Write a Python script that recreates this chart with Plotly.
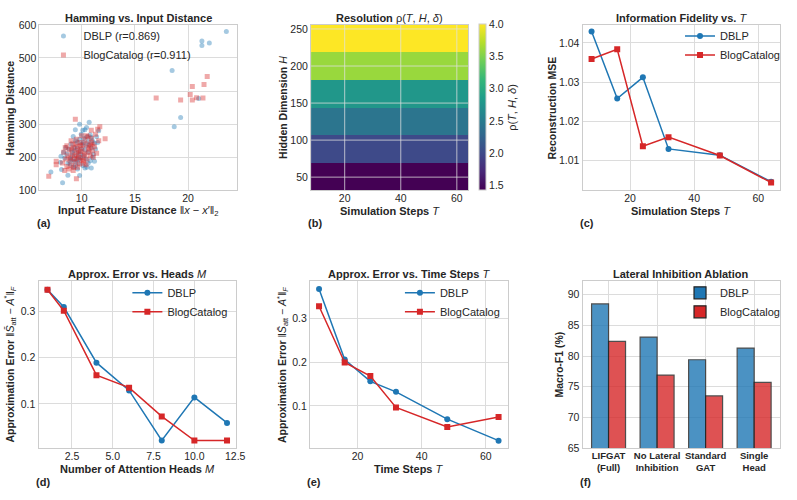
import numpy as np
import plotly.graph_objects as go

W, H = 797, 500
FONT = "Liberation Sans, Arial, sans-serif"
BLUE = "#1f77b4"
RED = "#d62728"
GRID = "#dcdcdc"
FRAME = "#cccccc"
TXT = "#262626"

# ---------------- data ----------------
# (a) Hamming vs input distance
dblp_x = [7.1, 8.2, 8.7, 9.8, 8.1, 8.05, 9.8, 10.7, 9.4, 10.1, 10.3, 11.6, 10.8, 11.0, 10.5, 9.2, 9.6, 10.0,
          10.4, 10.9, 11.3, 11.1, 10.6, 10.2, 9.9, 9.5, 9.1, 8.8, 8.5, 8.6, 8.9, 9.3, 9.7, 10.1, 10.5, 10.9,
          10.3, 9.6, 9.2, 8.7, 9.0, 9.4, 9.8, 10.2, 10.6, 11.2, 11.4, 10.0, 9.6, 9.3, 9.9, 10.4, 10.8, 11.0,
          8.4, 8.9, 9.5, 10.7, 10.3, 9.1, 9.7, 10.9, 8.3, 9.4, 9.95, 10.45, 11.5, 8.0, 9.3, 10.15, 10.6,
          9.75, 9.05, 11.2,
          23.6, 21.3, 21.3, 22.0, 18.5, 19.3, 18.7, 21.0]
dblp_y = [156, 123, 146, 145, 163, 203, 300, 306, 283, 282, 283, 280, 268, 250, 262, 263, 245, 240,
          235, 228, 225, 210, 215, 205, 198, 205, 215, 225, 230, 210, 195, 188, 182, 175, 170, 168,
          168, 165, 170, 182, 240, 250, 255, 258, 248, 243, 262, 225, 228, 230, 210, 195, 190, 200,
          198, 180, 192, 238, 222, 205, 215, 260, 215, 175, 270, 290, 245, 185, 220, 245, 182,
          195, 193, 188,
          580, 551, 538, 545, 462, 320, 292, 378]
blog_x = [6.9, 7.6, 7.6, 8.4, 9.5, 9.4, 10.9, 11.7, 12.2, 11.5, 11.3, 11.6, 10.6, 10.0, 9.5, 9.0, 8.6, 8.8,
          9.2, 9.6, 10.1, 10.5, 10.9, 11.2, 11.0, 10.7, 10.3, 9.9, 9.5, 9.1, 8.7, 8.5, 8.9, 9.3, 9.7, 10.1,
          10.5, 10.8, 11.1, 9.4, 9.8, 10.2, 9.0, 8.6, 8.8, 9.6, 10.4, 9.2, 9.85, 10.3, 10.7, 9.45, 9.75,
          10.05, 10.6, 8.3, 8.2, 9.55, 10.25, 10.9, 11.4, 9.15, 9.65, 10.15, 10.85, 9.35, 9.95, 8.95, 9.05,
          10.45, 11.05, 9.25, 8.45, 9.9,
          17.0, 19.3, 20.2, 20.4, 20.4, 21.5, 21.8, 20.8, 21.4]
blog_y = [143, 178, 188, 160, 135, 315, 282, 292, 256, 285, 270, 250, 262, 265, 255, 250, 235, 222,
          228, 232, 238, 240, 245, 232, 220, 215, 212, 218, 215, 210, 205, 195, 190, 195, 200, 198,
          195, 205, 200, 185, 180, 182, 175, 172, 165, 170, 178, 160, 245, 252, 230, 240, 210,
          225, 225, 215, 183, 197, 208, 258, 212, 240, 222, 190, 235, 205, 192, 198, 225,
          265, 240, 170, 230, 235,
          379, 373, 390, 373, 414, 420, 444, 380, 379]

# (b) Resolution heatmap
T_extent = [8, 64]
H_extent = [32, 256]
rho_rows = [1.42, 2.0, 2.42, 2.78, 3.6, 4.0]   # bottom -> top

# (c) Information fidelity
T_steps = [8, 16, 24, 32, 48, 64]
mse_dblp = [1.0429, 1.0258, 1.0312, 1.0129, 1.0113, 1.0045]
mse_blog = [1.0359, 1.0384, 1.0136, 1.0159, 1.0112, 1.0043]

# (d) Approx error vs heads
heads = [1, 2, 4, 6, 8, 10, 12]
errm_dblp = [0.346, 0.309, 0.189, 0.129, 0.021, 0.114, 0.059]
errm_blog = [0.346, 0.301, 0.162, 0.135, 0.073, 0.021, 0.021]

# (e) Approx error vs time steps
errt_dblp = [0.367, 0.206, 0.156, 0.132, 0.0695, 0.0204]
errt_blog = [0.3275, 0.199, 0.168, 0.0963, 0.0517, 0.0747]

# (f) Ablation
ablation = ["LIFGAT<br>(Full)", "No Lateral<br>Inhibition", "Standard<br>GAT", "Single<br>Head"]
f1_dblp = [88.5, 83.1, 79.4, 81.3]
f1_blog = [82.4, 76.9, 73.5, 75.7]

# ---------------- layout helpers ----------------
def px(x):
    return x / W

def py(y):
    return 1 - y / H

# plot boxes in pixels: (left, top, right, bottom)
boxes = {
    1: (40, 19, 240, 189),
    2: (315, 19, 474, 189),
    3: (590, 19, 790, 189),
    4: (39, 282, 239, 453),
    5: (314, 282, 514, 453),
    6: (590, 282, 790, 453),
}

fig = go.Figure()

# (a)
fig.add_trace(go.Scatter(x=dblp_x, y=dblp_y, mode="markers", name="DBLP (r=0.869)",
                         marker=dict(color=BLUE, size=5, opacity=0.4, symbol="circle"),
                         xaxis="x", yaxis="y", legend="legend"))
fig.add_trace(go.Scatter(x=blog_x, y=blog_y, mode="markers", name="BlogCatalog (r=0.911)",
                         marker=dict(color=RED, size=5, opacity=0.4, symbol="square"),
                         xaxis="x", yaxis="y", legend="legend"))

# (b)
z = [[v] for v in rho_rows]
H_edges = np.linspace(H_extent[0], H_extent[1], len(rho_rows) + 1)
fig.add_trace(go.Heatmap(z=z, x=T_extent, y=H_edges, colorscale="Viridis",
                         zmin=1.42, zmax=4.0, showscale=True, xaxis="x2", yaxis="y2",
                         colorbar=dict(x=px(485), xanchor="left", y=py(189), yanchor="bottom",
                                       len=170 / H, lenmode="fraction", thickness=7,
                                       outlinecolor=FRAME, outlinewidth=1,
                                       tickvals=[1.5, 2.0, 2.5, 3.0, 3.5, 4.0],
                                       ticktext=["1.5", "2.0", "2.5", "3.0", "3.5", "4.0"],
                                       tickfont=dict(size=10.5, color=TXT, family=FONT),
                                       ticks="", xpad=0, ypad=0,
                                       title=dict(text="ρ(<i>T</i>, <i>H</i>, <i>δ</i>)", side="right",
                                                  font=dict(size=11, color=TXT, family=FONT))),
                         hoverinfo="skip"))

# (c)
fig.add_trace(go.Scatter(x=T_steps, y=mse_dblp, mode="lines+markers", name="DBLP",
                         line=dict(color=BLUE, width=1.5), marker=dict(symbol="circle", size=6),
                         xaxis="x3", yaxis="y3", legend="legend2"))
fig.add_trace(go.Scatter(x=T_steps, y=mse_blog, mode="lines+markers", name="BlogCatalog",
                         line=dict(color=RED, width=1.5), marker=dict(symbol="square", size=6),
                         xaxis="x3", yaxis="y3", legend="legend2"))
# (d)
fig.add_trace(go.Scatter(x=heads, y=errm_dblp, mode="lines+markers", name="DBLP",
                         line=dict(color=BLUE, width=1.5), marker=dict(symbol="circle", size=6),
                         xaxis="x4", yaxis="y4", legend="legend3"))
fig.add_trace(go.Scatter(x=heads, y=errm_blog, mode="lines+markers", name="BlogCatalog",
                         line=dict(color=RED, width=1.5), marker=dict(symbol="square", size=6),
                         xaxis="x4", yaxis="y4", legend="legend3"))
# (e)
fig.add_trace(go.Scatter(x=T_steps, y=errt_dblp, mode="lines+markers", name="DBLP",
                         line=dict(color=BLUE, width=1.5), marker=dict(symbol="circle", size=6),
                         xaxis="x5", yaxis="y5", legend="legend4"))
fig.add_trace(go.Scatter(x=T_steps, y=errt_blog, mode="lines+markers", name="BlogCatalog",
                         line=dict(color=RED, width=1.5), marker=dict(symbol="square", size=6),
                         xaxis="x5", yaxis="y5", legend="legend4"))
# (f)
fig.add_trace(go.Bar(x=ablation, y=f1_dblp, name="DBLP", marker=dict(color=BLUE, opacity=0.8,
                     line=dict(color="#222222", width=1.2)), xaxis="x6", yaxis="y6", legend="legend5"))
fig.add_trace(go.Bar(x=ablation, y=f1_blog, name="BlogCatalog", marker=dict(color=RED, opacity=0.8,
                     line=dict(color="#222222", width=1.2)), xaxis="x6", yaxis="y6", legend="legend5"))

# ---------------- axes ----------------
def axis_common():
    return dict(showgrid=True, gridcolor=GRID, gridwidth=1, zeroline=False, showline=True,
                linecolor=FRAME, linewidth=1.2, mirror=True, ticks="", ticklen=0,
                tickfont=dict(size=10.5, color=TXT, family=FONT))

ranges = {
    1: dict(x=dict(range=[6.03, 24.6], tickvals=[10, 15, 20]),
            y=dict(range=[100, 601], tickvals=[100, 200, 300, 400, 500, 600])),
    2: dict(x=dict(range=[8, 64], tickvals=[20, 40, 60]),
            y=dict(range=[32, 256], tickvals=[50, 100, 150, 200, 250])),
    3: dict(x=dict(range=[5.2, 66.8], tickvals=[20, 40, 60]),
            y=dict(range=[1.00227, 1.0447], tickvals=[1.01, 1.02, 1.03, 1.04], tickformat=".2f")),
    4: dict(x=dict(range=[0.45, 12.55], tickvals=[2.5, 5.0, 7.5, 10.0, 12.5], tickformat=".1f"),
            y=dict(range=[0.0046, 0.3646], tickvals=[0.1, 0.2, 0.3], tickformat=".1f")),
    5: dict(x=dict(range=[5.2, 66.8], tickvals=[20, 40, 60]),
            y=dict(range=[0.0033, 0.3848], tickvals=[0.1, 0.2, 0.3], tickformat=".1f")),
    6: dict(x=dict(range=[-0.535, 3.535]),
            y=dict(range=[65, 92.2], tickvals=[65, 70, 75, 80, 85, 90])),
}
layout_axes = {}
for i, (l, t, r, b) in boxes.items():
    xa = axis_common()
    ya = axis_common()
    xa.update(ranges[i]["x"])
    ya.update(ranges[i]["y"])
    xa["domain"] = [px(l), px(r)]
    ya["domain"] = [py(b), py(t)]
    xa["ticklabelstandoff"] = -2
    sfx = "" if i == 1 else str(i)
    xa["anchor"] = "y" + sfx
    ya["anchor"] = "x" + sfx
    if i == 6:
        xa["type"] = "category"
        xa["tickfont"] = dict(size=9.5, color=TXT, family=FONT, weight="bold")
    layout_axes["xaxis" + sfx] = xa
    layout_axes["yaxis" + sfx] = ya

fig.update_layout(**layout_axes)

# gridlines over heatmap
for tv in ranges[2]["x"]["tickvals"]:
    fig.add_shape(type="line", xref="x2", yref="y2", x0=tv, x1=tv, y0=H_extent[0], y1=H_extent[1],
                  line=dict(color="rgba(225,225,225,0.75)", width=1), layer="above")
for hv in ranges[2]["y"]["tickvals"]:
    fig.add_shape(type="line", xref="x2", yref="y2", x0=T_extent[0], x1=T_extent[1], y0=hv, y1=hv,
                  line=dict(color="rgba(225,225,225,0.75)", width=1), layer="above")

# ---------------- text annotations ----------------
ann = []
titles = {
    1: "Hamming vs. Input Distance",
    2: "Resolution <span style='font-weight:normal'>ρ(<i>T</i>, <i>H</i>, <i>δ</i>)</span>",
    3: "Information Fidelity vs. <span style='font-weight:normal'><i>T</i></span>",
    4: "Approx. Error vs. Heads <span style='font-weight:normal'><i>M</i></span>",
    5: "Approx. Error vs. Time Steps <span style='font-weight:normal'><i>T</i></span>",
    6: "Lateral Inhibition Ablation",
}
xtitles = {
    1: "Input Feature Distance <span style='font-weight:normal'>‖<i>x</i> − <i>x</i>′‖<sub>2</sub></span>",
    2: "Simulation Steps <span style='font-weight:normal'><i>T</i></span>",
    3: "Simulation Steps <span style='font-weight:normal'><i>T</i></span>",
    4: "Number of Attention Heads <span style='font-weight:normal'><i>M</i></span>",
    5: "Time Steps <span style='font-weight:normal'><i>T</i></span>",
    6: None,
}
err_lbl = ("Approximation Error <span style='font-weight:normal'>‖<i>S̄</i><sub>att</sub> − "
           "<i>A</i><sup>*</sup>‖<sub><i>F</i></sub></span>")
ytitles = {
    1: ("Hamming Distance", 10),
    2: ("Hidden Dimension <span style='font-weight:normal'><i>H</i></span>", 286),
    3: ("Reconstruction MSE", 559),
    4: (err_lbl, 10),
    5: (err_lbl, 286),
    6: ("Macro-F1 (%)", 566),
}
letters = {1: "(a)", 2: "(b)", 3: "(c)", 4: "(d)", 5: "(e)", 6: "(f)"}

for i, (l, t, r, b) in boxes.items():
    cx = (l + r) / 2
    ty = 12 if t < 100 else 275
    ann.append(dict(text="<b>" + titles[i] + "</b>", x=px(cx), y=py(ty), xref="paper", yref="paper",
                    showarrow=False, xanchor="center", yanchor="middle",
                    font=dict(size=11, color=TXT, family=FONT)))
    if xtitles[i]:
        ann.append(dict(text="<b>" + xtitles[i] + "</b>", x=px(cx), y=py(b + 21), xref="paper",
                        yref="paper", showarrow=False, xanchor="center", yanchor="middle",
                        font=dict(size=11, color=TXT, family=FONT)))
    yt, yx = ytitles[i]
    ann.append(dict(text="<b>" + yt + "</b>", x=px(yx), y=py((t + b) / 2), xref="paper", yref="paper",
                    showarrow=False, xanchor="center", yanchor="middle", textangle=-90,
                    font=dict(size=10.5, color=TXT, family=FONT)))
    ly = 222 if t < 100 else 488
    ann.append(dict(text="<b>" + letters[i] + "</b>", x=px(l - 5), y=py(ly), xref="paper", yref="paper",
                    showarrow=False, xanchor="left", yanchor="middle",
                    font=dict(size=11, color=TXT, family=FONT)))

def leg(xp, yp, anchor="left"):
    return dict(x=px(xp), y=py(yp), xanchor=anchor, yanchor="top", bgcolor="rgba(0,0,0,0)",
                font=dict(size=11, color=TXT, family=FONT), borderwidth=0)

fig.update_layout(
    width=W, height=H, margin=dict(l=0, r=0, t=0, b=0),
    paper_bgcolor="white", plot_bgcolor="white",
    font=dict(family=FONT, color=TXT),
    showlegend=True,
    barmode="group", bargap=0.3, bargroupgap=0,
    annotations=ann,
    legend=leg(44, 16),
    legend2=leg(795, 16, "right"),
    legend3=leg(129, 279),
    legend4=leg(405, 279),
    legend5=leg(795, 279, "right"),
)

fig.write_html("out.html")
